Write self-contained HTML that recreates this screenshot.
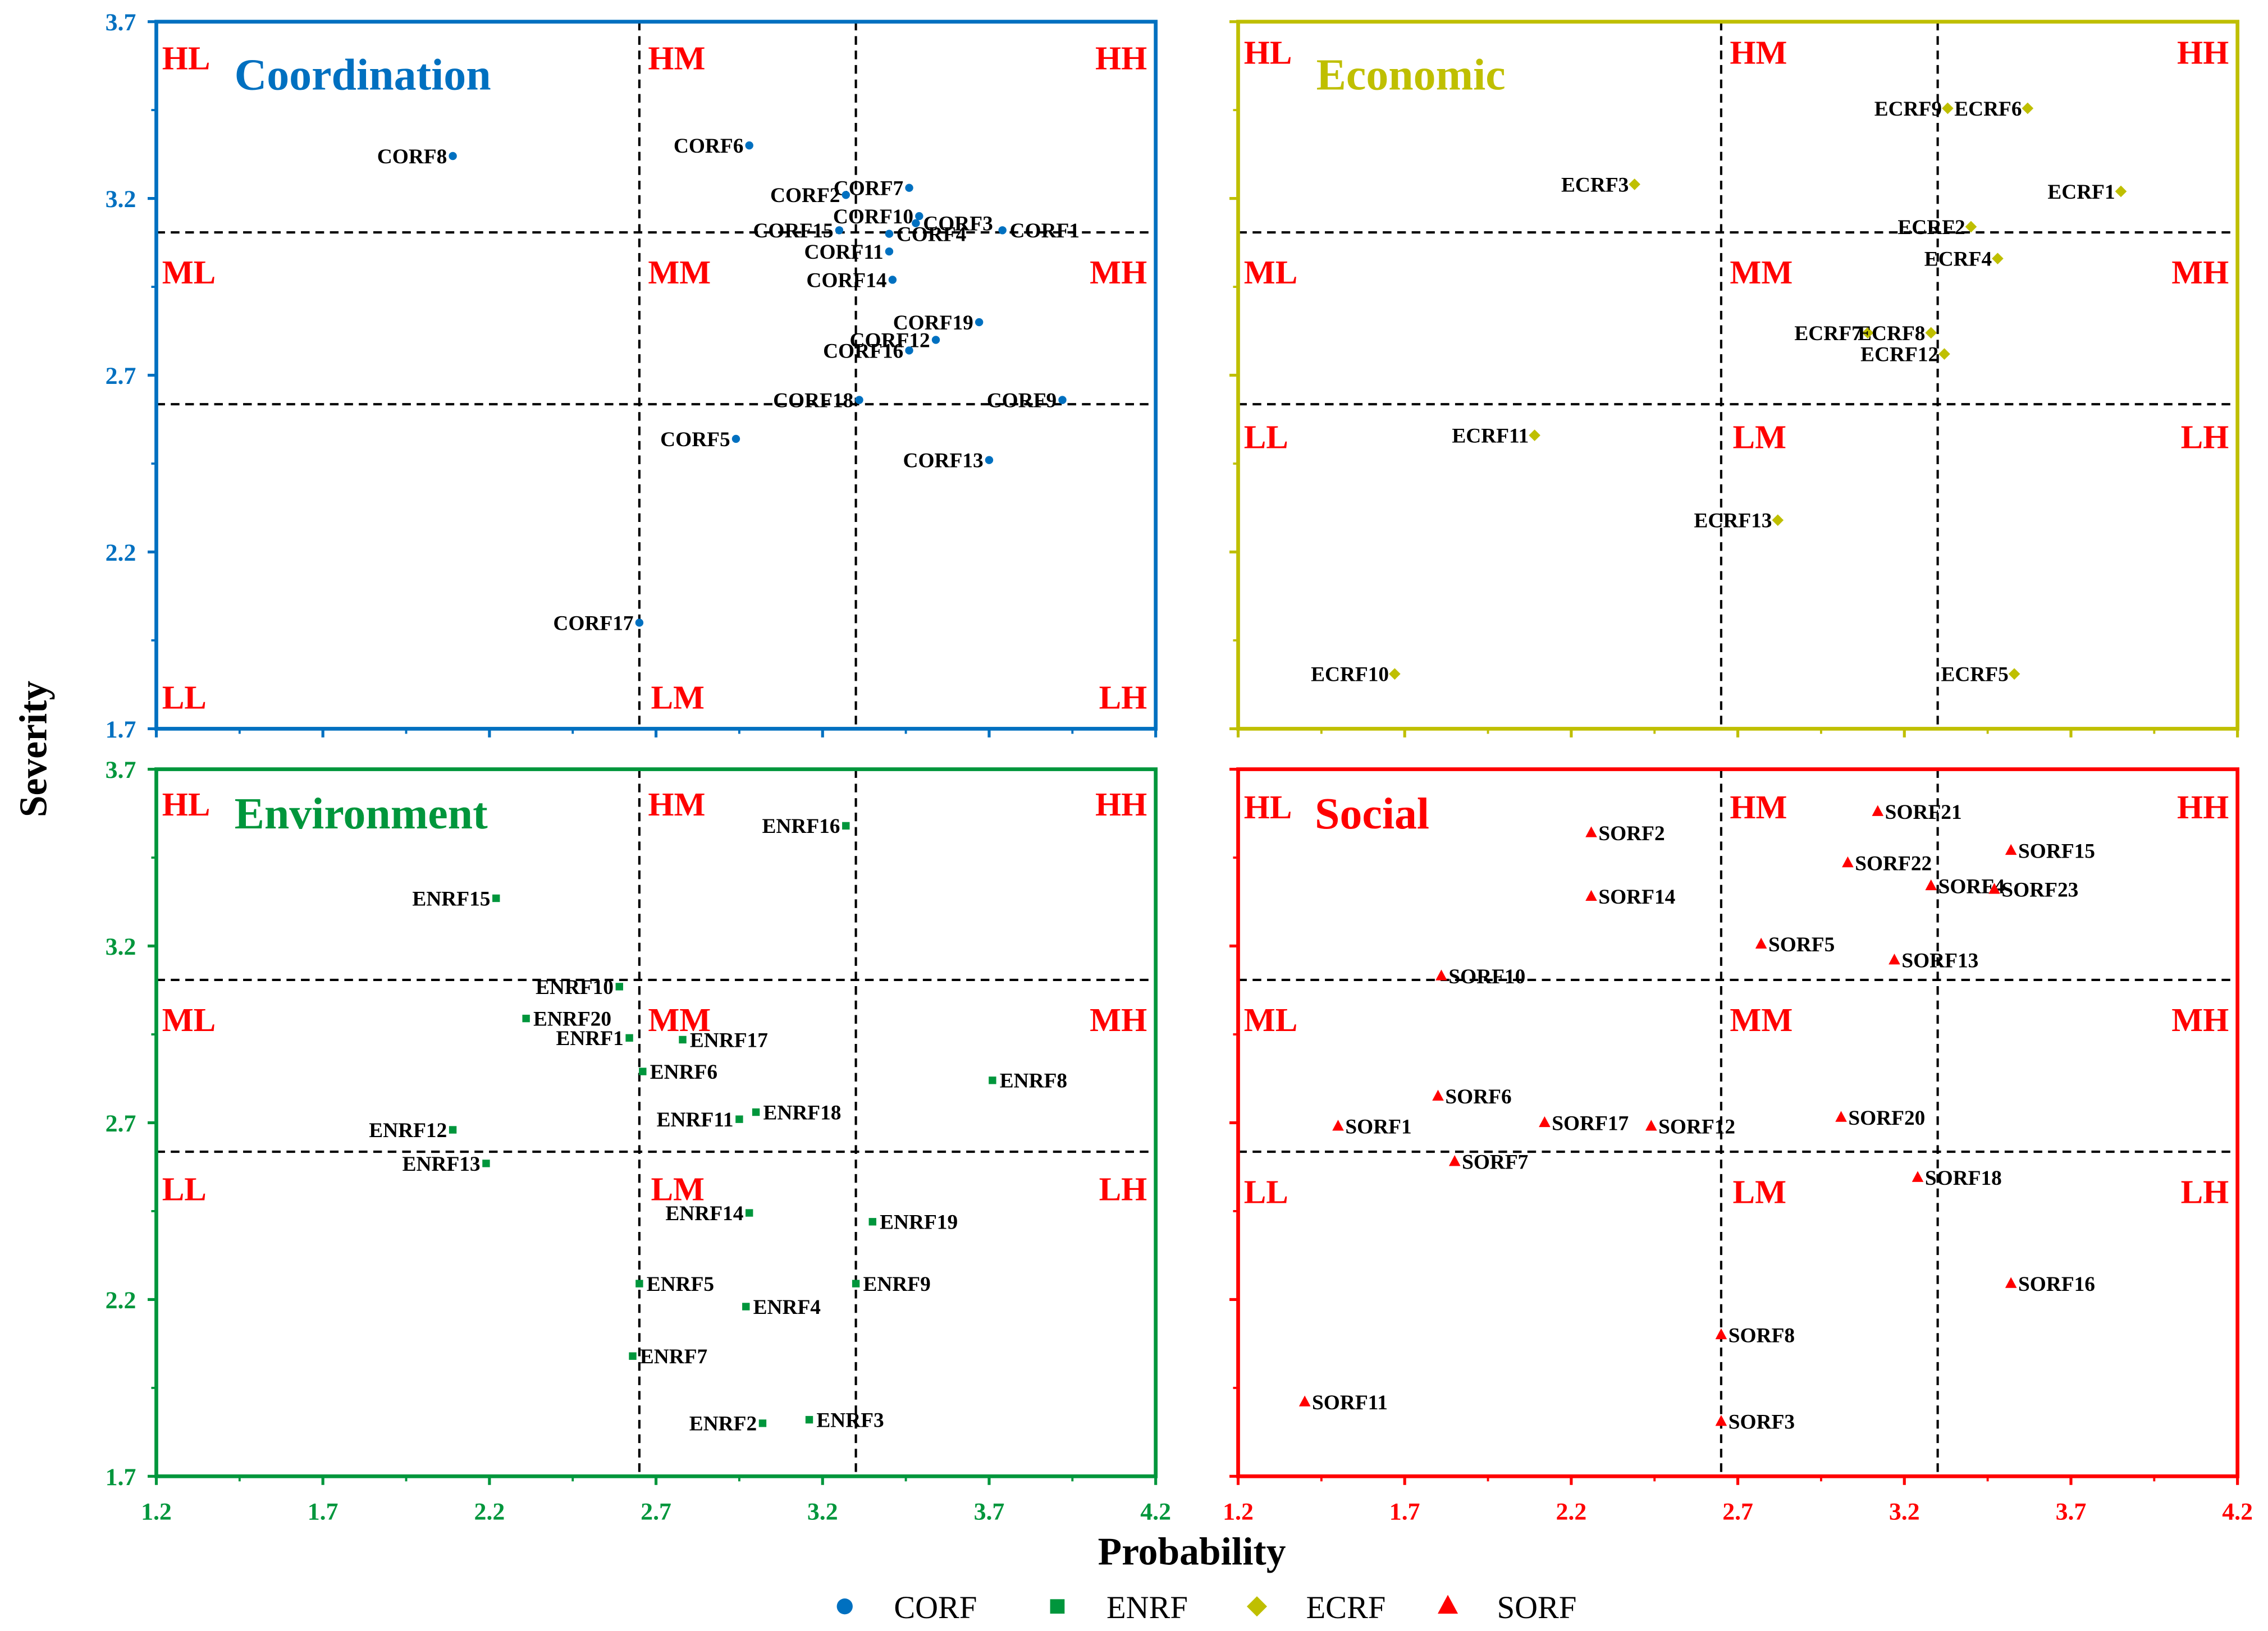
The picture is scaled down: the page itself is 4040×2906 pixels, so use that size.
<!DOCTYPE html>
<html><head><meta charset="utf-8"><style>
html,body{margin:0;padding:0;background:#fff;}
svg{display:block;}
text{font-family:"Liberation Serif",serif;}
</style></head><body>
<svg id="chart" width="4040" height="2906" viewBox="0 0 1568 1128" xmlns="http://www.w3.org/2000/svg">
<rect width="1568" height="1128" fill="#fff"/>
</svg>
<script>
const xTicks=[1.2,1.7,2.2,2.7,3.2,3.7,4.2];
const yTicks=[1.7,2.2,2.7,3.2,3.7];
const vLines=[2.65,3.30];
const hLines=[3.104,2.618];

const corfNames=["CORF8","CORF6","CORF7","CORF2","CORF10","CORF3","CORF15","CORF4","CORF1","CORF11","CORF14","CORF19","CORF12","CORF16","CORF18","CORF9","CORF5","CORF13","CORF17"];
const corfX=[2.09,2.98,3.46,3.27,3.49,3.48,3.25,3.40,3.74,3.40,3.41,3.67,3.54,3.46,3.31,3.92,2.94,3.70,2.65];
const corfY=[3.32,3.35,3.23,3.21,3.15,3.13,3.11,3.10,3.11,3.05,2.97,2.85,2.80,2.77,2.63,2.63,2.52,2.46,2.00];
const corfSide=["L","L","L","L","L","R","L","R","R","L","L","L","L","L","L","L","L","L","L"];

const ecrfNames=["ECRF9","ECRF6","ECRF3","ECRF1","ECRF2","ECRF4","ECRF7","ECRF8","ECRF12","ECRF11","ECRF13","ECRF10","ECRF5"];
const ecrfX=[3.33,3.57,2.39,3.85,3.40,3.48,3.09,3.28,3.32,2.09,2.82,1.67,3.53];
const ecrfY=[3.455,3.455,3.24,3.22,3.12,3.03,2.82,2.82,2.76,2.53,2.29,1.855,1.855];
const ecrfSide=["L","L","L","L","L","L","L","L","L","L","L","L","L"];

const enrfNames=["ENRF16","ENRF15","ENRF10","ENRF20","ENRF1","ENRF17","ENRF6","ENRF8","ENRF11","ENRF18","ENRF12","ENRF13","ENRF14","ENRF19","ENRF5","ENRF9","ENRF4","ENRF7","ENRF2","ENRF3"];
const enrfX=[3.27,2.22,2.59,2.31,2.62,2.78,2.66,3.71,2.95,3.00,2.09,2.19,2.98,3.35,2.65,3.30,2.97,2.63,3.02,3.16];
const enrfY=[3.54,3.335,3.085,2.995,2.94,2.935,2.845,2.82,2.71,2.73,2.68,2.585,2.445,2.42,2.245,2.245,2.18,2.04,1.85,1.86];
const enrfSide=["L","L","L","R","L","R","R","R","L","R","L","L","L","R","R","R","R","R","L","R"];

const sorfNames=["SORF21","SORF2","SORF15","SORF22","SORF4","SORF23","SORF14","SORF5","SORF13","SORF10","SORF6","SORF20","SORF17","SORF12","SORF1","SORF7","SORF18","SORF16","SORF8","SORF11","SORF3"];
const sorfX=[3.12,2.26,3.52,3.03,3.28,3.47,2.26,2.77,3.17,1.81,1.80,3.01,2.12,2.44,1.50,1.85,3.24,3.52,2.65,1.40,2.65];
const sorfY=[3.58,3.52,3.47,3.435,3.37,3.36,3.34,3.205,3.16,3.115,2.775,2.715,2.70,2.69,2.69,2.59,2.545,2.245,2.10,1.91,1.855];
const sorfSide=["R","R","R","R","R","R","R","R","R","R","R","R","R","R","R","R","R","R","R","R","R"];

const NS="http://www.w3.org/2000/svg";
const svg=document.getElementById('chart');
function mk(tag,attrs,parent){const e=document.createElementNS(NS,tag);for(const k in attrs)e.setAttribute(k,attrs[k]);(parent||svg).appendChild(e);return e;}

const panels=[
 {key:"coordination",title:"Coordination",color:"#0070C0",x0:108,y0:15,names:corfNames,xs:corfX,ys:corfY,side:corfSide,shape:"circle",yLabels:true,xLabels:false,tx:162,ty:62,lowY:475,topY:33},
 {key:"economic",title:"Economic",color:"#BFBF00",x0:856,y0:15,names:ecrfNames,xs:ecrfX,ys:ecrfY,side:ecrfSide,shape:"diamond",yLabels:false,xLabels:false,tx:910,ty:62,lowY:295,topY:29},
 {key:"environment",title:"Environment",color:"#00963C",x0:108,y0:532,names:enrfNames,xs:enrfX,ys:enrfY,side:enrfSide,shape:"square",yLabels:true,xLabels:true,tx:162,ty:573,lowY:298,topY:32},
 {key:"social",title:"Social",color:"#FF0000",x0:856,y0:532,names:sorfNames,xs:sorfX,ys:sorfY,side:sorfSide,shape:"triangle",yLabels:false,xLabels:true,tx:909,ty:573,lowY:300,topY:34}
];
const W=691,H=489;

function drawMarker(shape,cx,cy,color,g){
  let m;
  if(shape==="circle") m=mk('circle',{cx:cx,cy:cy,r:2.8,fill:color},g);
  else if(shape==="square") m=mk('rect',{x:cx-2.6,y:cy-2.6,width:5.2,height:5.2,fill:color},g);
  else if(shape==="diamond") m=mk('polygon',{points:`${cx},${cy-4} ${cx+4},${cy} ${cx},${cy+4} ${cx-4},${cy}`,fill:color},g);
  else m=mk('polygon',{points:`${cx},${cy-4.5} ${cx+4},${cy+3} ${cx-4},${cy+3}`,fill:color},g);
  return m;
}

panels.forEach(p=>{
  const sx=v=>p.x0+(v-1.2)/3*W;
  const sy=v=>p.y0+(3.7-v)/2*H;
  const g=mk('g',{});
  
  
  vLines.forEach(v=>{const l=mk('line',{x1:sx(v),x2:sx(v),y1:p.y0,y2:p.y0+H,stroke:"#000","stroke-width":1.6,"stroke-dasharray":"6,4"},g);
    });
  hLines.forEach(v=>{const l=mk('line',{x1:p.x0,x2:p.x0+W,y1:sy(v),y2:sy(v),stroke:"#000","stroke-width":1.6,"stroke-dasharray":"6,4"},g);
    });
  const fr=mk('rect',{x:p.x0,y:p.y0,width:W,height:H,fill:"none",stroke:p.color,"stroke-width":2.6},g);
  
  yTicks.forEach((t,i)=>{
    mk('line',{x1:p.x0-6,x2:p.x0,y1:sy(t),y2:sy(t),stroke:p.color,"stroke-width":2},g);
    if(i<yTicks.length-1) mk('line',{x1:p.x0-3.5,x2:p.x0,y1:sy(t+0.25),y2:sy(t+0.25),stroke:p.color,"stroke-width":1.5},g);
    if(p.yLabels){const tl=mk('text',{x:p.x0-14,y:sy(t)+6,"text-anchor":"end","font-size":17,"font-weight":"bold",fill:p.color},g);tl.textContent=t.toFixed(1);
      }
  });
  xTicks.forEach((t,i)=>{
    mk('line',{x1:sx(t),x2:sx(t),y1:p.y0+H,y2:p.y0+H+6,stroke:p.color,"stroke-width":2},g);
    if(i<xTicks.length-1) mk('line',{x1:sx(t+0.25),x2:sx(t+0.25),y1:p.y0+H,y2:p.y0+H+3.5,stroke:p.color,"stroke-width":1.5},g);
    if(p.xLabels){const tl=mk('text',{x:sx(t),y:p.y0+H+30,"text-anchor":"middle","font-size":17,"font-weight":"bold",fill:p.color},g);tl.textContent=t.toFixed(1);
      }
  });
  const q=[["HL",4,p.topY,"start"],["HM",340,p.topY,"start"],["HH",W-6,p.topY,"end"],["ML",4,181,"start"],["MM",340,181,"start"],["MH",W-6,181,"end"],["LL",4,p.lowY,"start"],["LM",342,p.lowY,"start"],["LH",W-6,p.lowY,"end"]];
  q.forEach(a=>{const t=mk('text',{x:p.x0+a[1],y:p.y0+a[2],"text-anchor":a[3],"font-size":23,"font-weight":"bold",fill:"#FF0000"},g);t.textContent=a[0];
    });
  const tt=mk('text',{x:p.tx,y:p.ty,"font-size":31,"font-weight":"bold",fill:p.color},g);tt.textContent=p.title;
  
  p.names.forEach((n,i)=>{
    const cx=sx(p.xs[i]),cy=sy(p.ys[i]);
    const m=drawMarker(p.shape,cx,cy,p.color,g);
    
    
    const right=p.side[i]==="R";
    const t=mk('text',{x:right?cx+5:cx-4,y:cy+5,"text-anchor":right?"start":"end","font-size":14.5,"font-weight":"bold",fill:"#000"},g);
    t.textContent=n;
    
    
  });
});

const yt=mk('text',{x:0,y:0,transform:"translate(32,518) rotate(-90)","text-anchor":"middle","font-size":27,"font-weight":"bold",fill:"#000"});
yt.textContent="Severity";


const xt=mk('text',{x:824,y:1082,"text-anchor":"middle","font-size":27,"font-weight":"bold",fill:"#000"});
xt.textContent="Probability";



const legendNames=["CORF","ENRF","ECRF","SORF"];
const legendShapes=["circle","square","diamond","triangle"];
const legendColors=["#0070C0","#00963C","#BFBF00","#FF0000"];
const legendX=[584,731,869,1001];
legendNames.forEach((n,i)=>{
  const lg=mk('g',{});
  
  
  const cx=legendX[i],cy=1111;
  if(legendShapes[i]==="circle") mk('circle',{cx:cx,cy:cy,r:5.5,fill:legendColors[i]},lg);
  else if(legendShapes[i]==="square") mk('rect',{x:cx-5,y:cy-5,width:10,height:10,fill:legendColors[i]},lg);
  else if(legendShapes[i]==="diamond") mk('polygon',{points:`${cx},${cy-7} ${cx+7},${cy} ${cx},${cy+7} ${cx-7},${cy}`,fill:legendColors[i]},lg);
  else mk('polygon',{points:`${cx},${cy-8} ${cx+7},${cy+5} ${cx-7},${cy+5}`,fill:legendColors[i]},lg);
  const t=mk('text',{x:cx+34,y:cy+8,"font-size":22,fill:"#000"},lg);
  t.textContent=n;
});
</script>
</body></html>
